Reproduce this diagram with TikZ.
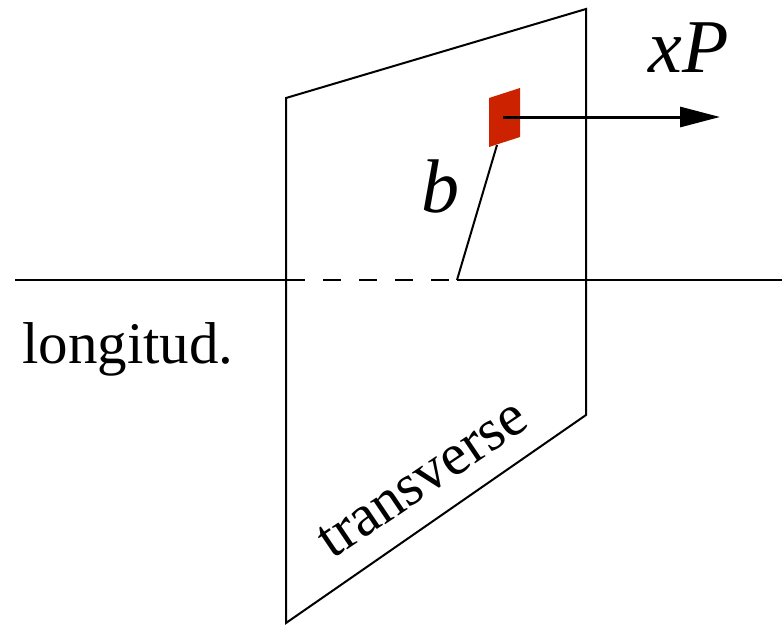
\documentclass[tikz,border=0pt]{standalone}
\usepackage{fontspec}
\setmainfont{Liberation Serif}
\usetikzlibrary{arrows.meta}
\definecolor{patch}{RGB}{204,34,0}
\begin{document}
\begin{tikzpicture}[x=1pt,y=-1pt,
  edge/.style={line width=2pt,line join=miter},
  lbl/.style={inner sep=0pt,anchor=base,font=\fontsize{59}{62}\selectfont},
  mlbl/.style={inner sep=0pt,anchor=base,font=\fontsize{76}{79}\selectfont\itshape}]
\useasboundingbox (0,0) rectangle (782,629);
% plane corners
\coordinate (tl) at (286,98);
\coordinate (tr) at (586,9);
\coordinate (br) at (586,415);
\coordinate (bl) at (286,623);
\draw[edge] (tl) -- (tr) -- (br) -- (bl) -- cycle;
% longitudinal axis
\coordinate (L) at (15,280);
\coordinate (d0) at (305,280);
\coordinate (d1) at (323,280);
\coordinate (d2) at (449,280);
\coordinate (O) at (457,280);
\coordinate (R) at (782,280);
\draw[edge] (L) -- (d0);
\draw[edge,dash pattern=on 18pt off 18pt] (d1) -- (d2);
\draw[edge] (O) -- (R);
% impact parameter
\coordinate (pb) at (497,145);
\draw[edge] (O) -- (pb);
% red patch
\fill[patch] (489,98) -- (520,88) -- (520,137) -- (489,147) -- cycle;
% momentum arrow
\coordinate (a0) at (503,117);
\coordinate (a1) at (720,117);
\draw[line width=3pt,-{Triangle[length=40pt,width=20pt]}] (a0) -- (a1);
% labels
\node[mlbl] (xp) at (689,72) {xP};
\node[mlbl] (b) at (440,212) {b};
\node[lbl] (lon) at (128,363) {longitud.};
\node[lbl,rotate=34] (trv) at (432,493) {transverse};
\end{tikzpicture}
\end{document}
